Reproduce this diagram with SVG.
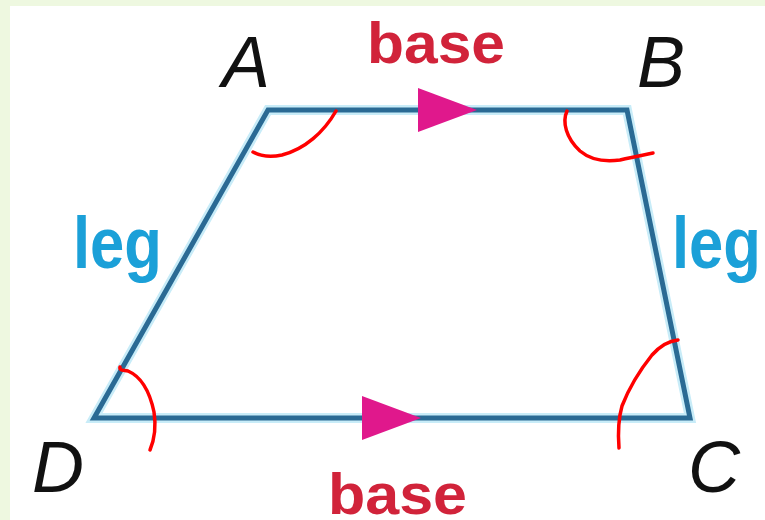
<svg xmlns="http://www.w3.org/2000/svg" width="765" height="520" viewBox="0 0 765 520">
<style>
.vtx{font-family:"Liberation Sans",Arial,sans-serif;font-style:italic;font-size:72px;fill:#111;}
.base{font-family:"Liberation Sans",Arial,sans-serif;font-weight:bold;font-size:58px;fill:#d1233a;}
.leg{font-family:"Liberation Sans",Arial,sans-serif;font-weight:bold;font-size:72px;fill:#1ba0d8;}
.side{stroke:#2a6a94;stroke-width:5;stroke-linecap:square;fill:none;}
.glow{stroke:#c8ecf8;stroke-width:10;fill:none;stroke-linejoin:miter;}
.arc{stroke:#ff0000;stroke-width:3.5;fill:none;stroke-linecap:round;stroke-linejoin:round;}
.mark{fill:#e0188c;}
</style>
<rect x="0" y="0" width="765" height="520" fill="#eef8e0"/>
<rect x="10" y="6" width="755" height="514" fill="#ffffff"/>
<g id="edges">
<polygon class="glow" points="268,110 627,110 690,418 94,418"/>
<polygon class="side" points="268,110 627,110 690,418 94,418" stroke-linejoin="miter"/>
<polygon class="mark" points="418,88 477,110 418,132"/>
<polygon class="mark" points="362,396 421,418 362,440"/>
</g>
<g id="angles">
<path class="arc" d="M253,152 C262,157 272,157 282,155 C305,149 324,132 336,111"/>
<path class="arc" d="M567,111 C562,122 566,138 580,151 C592,161 606,162 620,160 C632,157 643,155 653,153"/>
<path class="arc" d="M120,367 C119,371 124,370 128,371 C142,377 150,393 154,412 C156,425 155,438 150,450"/>
<path class="arc" d="M678,340 C668,341 660,346 652,355 C640,370 629,388 622,406 C618,420 618,435 619,448"/>
</g>
<g id="vA"><text class="vtx" x="222" y="87">A</text></g>
<g id="vB"><text class="vtx" x="637" y="87">B</text></g>
<g id="vC"><text class="vtx" x="688" y="492">C</text></g>
<g id="vD"><text class="vtx" x="32" y="492">D</text></g>
<g id="baseTop"><text class="base" x="367" y="63" textLength="138" lengthAdjust="spacingAndGlyphs">base</text></g>
<g id="baseBottom"><text class="base" x="328" y="514" textLength="139" lengthAdjust="spacingAndGlyphs">base</text></g>
<g id="legLeft"><text class="leg" x="73" y="268" textLength="89" lengthAdjust="spacingAndGlyphs">leg</text></g>
<g id="legRight"><text class="leg" x="672" y="268" textLength="89" lengthAdjust="spacingAndGlyphs">leg</text></g>
</svg>
